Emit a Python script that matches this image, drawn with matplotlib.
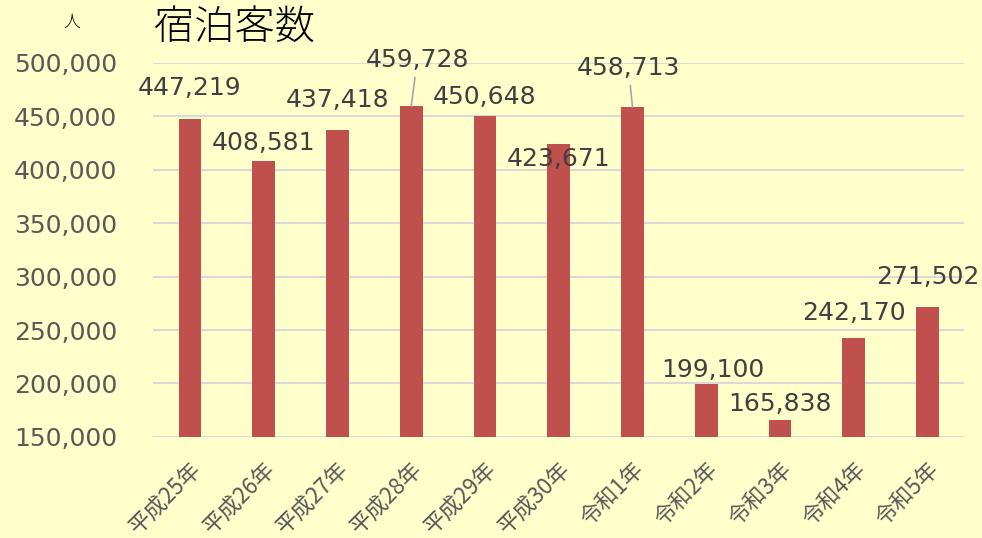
import numpy as np
import matplotlib.pyplot as plt

plt.rcParams['font.family'] = ['DejaVu Sans', 'Noto Sans CJK JP']

years = ['平成25年', '平成26年', '平成27年', '平成28年', '平成29年', '平成30年',
         '令和1年', '令和2年', '令和3年', '令和4年', '令和5年']
guests = [447219, 408581, 437418, 459728, 450648, 423671,
          458713, 199100, 165838, 242170, 271502]

# label offsets from bar top (pixels), like the hand-placed Excel labels
label_dx = [0, 0, 0, 6, 0, 0, -4, 7, 0, 0, 0]
label_dy = [31, 18, 30, 46, 19, -15, 39, 14, 16, 25, 30]
leader = [False, False, False, True, False, False, True, False, False, False, False]

bg = '#ffffcc'
bar_color = '#c0504d'
text_gray = '#595959'

fig = plt.figure(figsize=(9.82, 5.38), dpi=100, facecolor=bg)
ax = fig.add_axes([0.156, 0.188, 0.826, 0.695], facecolor=bg)

x = np.arange(len(years))
ax.bar(x, guests, width=0.31, color=bar_color, zorder=3)

ax.set_xlim(-0.5, len(years) - 0.5)
ax.set_ylim(150000, 500000)
ax.set_yticks(np.arange(150000, 500001, 50000))
ax.yaxis.set_major_formatter(plt.FuncFormatter(lambda v, p: f'{int(v):,}'))
ax.grid(axis='y', color='#d9d9d9', linewidth=1.5, zorder=0)
for s in ['top', 'right', 'left', 'bottom']:
    ax.spines[s].set_visible(False)
ax.tick_params(axis='y', length=0, pad=26, labelsize=18, labelcolor=text_gray)
ax.tick_params(axis='x', length=0, pad=15, labelcolor=text_gray)

ax.set_xticks(x)
ax.set_xticklabels(years, rotation=45, ha='right', va='top',
                   rotation_mode='anchor', fontsize=16,
                   family=['Noto Sans CJK JP'])

for i, v in enumerate(guests):
    props = None
    if leader[i]:
        props = dict(arrowstyle='-', color='#a6a6a6', lw=1.2, shrinkA=2, shrinkB=0)
    ax.annotate(f'{v:,}', xy=(i, v), xytext=(label_dx[i], label_dy[i]),
                textcoords='offset pixels', ha='center', va='center',
                fontsize=18, color='#404040', arrowprops=props, zorder=4)

fig.text(154 / 982, 1 - 28 / 538, '宿泊客数', fontsize=29, color='black',
         ha='left', va='center', weight='light', family=['Noto Sans CJK JP'])
fig.text(72 / 982, 1 - 22 / 538, '人', fontsize=12, color='black',
         ha='center', va='center', weight='light', family=['Noto Sans CJK JP'])

fig.savefig('out.png', dpi=100, facecolor=bg)
